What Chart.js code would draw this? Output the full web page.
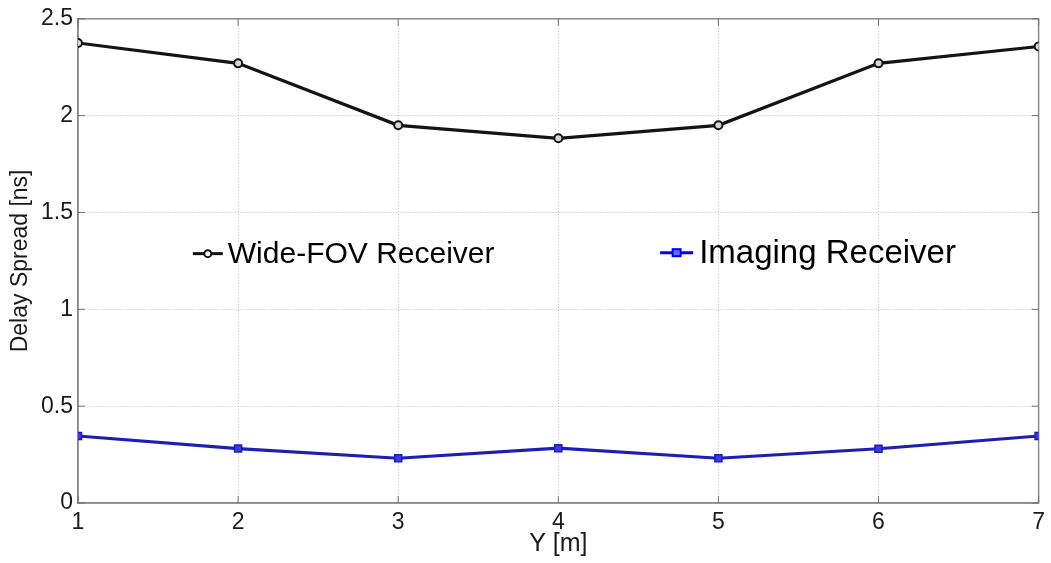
<!DOCTYPE html>
<html>
<head>
<meta charset="utf-8">
<script src="https://cdn.jsdelivr.net/npm/chart.js@4/dist/chart.umd.min.js"></script>
<style>
  html, body { margin: 0; padding: 0; background: #fff; }
  #wrap { width: 1051px; height: 563px; }
</style>
</head>
<body>
<div id="wrap"><canvas id="c" width="1051" height="563"></canvas></div>
<script>
// Receiver position along the room (Y, metres)
const positions = [1, 2, 3, 4, 5, 6, 7];
// RMS delay spread in ns for each receiver type
const wideFovSpread = [2.375, 2.27, 1.95, 1.883, 1.95, 2.27, 2.357];
const imagingSpread = [0.346, 0.281, 0.231, 0.283, 0.231, 0.280, 0.346];
// Axis ticks
const yTicks = [0, 0.5, 1, 1.5, 2, 2.5];
const xTicks = [1, 2, 3, 4, 5, 6, 7];

const seriesNames = ['Wide-FOV Receiver', 'Imaging Receiver'];

const toPoints = (xs, ys) => xs.map((x, i) => ({ x: x, y: ys[i] }));

const FONT = 'Arial, "Liberation Sans", Helvetica, sans-serif';

// Box around the plotting area with short inward tick marks on every side
const boxPlugin = {
  id: 'axesBox',
  beforeDatasetsDraw(chart) {
    const { ctx, chartArea: a, scales } = chart;
    ctx.save();
    ctx.strokeStyle = '#8a8a8a';
    ctx.lineWidth = 1.5;
    ctx.strokeRect(a.left, a.top, a.right - a.left, a.bottom - a.top);
    ctx.lineWidth = 1;
    ctx.strokeStyle = '#707070';
    const t = 7;
    ctx.beginPath();
    xTicks.forEach(v => {
      const px = scales.x.getPixelForValue(v);
      ctx.moveTo(px, a.bottom); ctx.lineTo(px, a.bottom - t);
      ctx.moveTo(px, a.top); ctx.lineTo(px, a.top + t);
    });
    yTicks.forEach(v => {
      const py = scales.y.getPixelForValue(v);
      ctx.moveTo(a.left, py); ctx.lineTo(a.left + t, py);
      ctx.moveTo(a.right, py); ctx.lineTo(a.right - t, py);
    });
    ctx.stroke();
    ctx.restore();
  }
};

// In-plot legend entries, placed as in a MATLAB legend
const legendPlugin = {
  id: 'inlineLegend',
  afterDatasetsDraw(chart) {
    const { ctx, chartArea: a } = chart;
    const w = a.right - a.left, h = a.bottom - a.top;
    const entries = [
      { ds: 0, fx: 0.1195, fy: 0.485, len: 30, size: 30, gap: 5, color: '#111111' },
      { ds: 1, fx: 0.6060, fy: 0.483, len: 33, size: 33, gap: 6, color: '#0000ff' }
    ];
    ctx.save();
    entries.forEach(e => {
      const ds = chart.data.datasets[e.ds];
      const x0 = a.left + e.fx * w;
      const y0 = a.top + e.fy * h;
      ctx.strokeStyle = e.color;
      ctx.lineWidth = 3;
      ctx.beginPath();
      ctx.moveTo(x0, y0);
      ctx.lineTo(x0 + e.len, y0);
      ctx.stroke();
      const cx = x0 + e.len / 2;
      ctx.lineWidth = 2;
      if (ds.pointStyle === 'rect') {
        ctx.fillStyle = '#6a6aff';
        ctx.fillRect(cx - 4, y0 - 3.5, 8, 7);
        ctx.strokeRect(cx - 4, y0 - 3.5, 8, 7);
      } else {
        ctx.fillStyle = '#ffffff';
        ctx.beginPath();
        ctx.arc(cx, y0, 3.5, 0, Math.PI * 2);
        ctx.fill();
        ctx.stroke();
      }
      ctx.fillStyle = '#000';
      ctx.font = e.size + 'px ' + FONT;
      ctx.textBaseline = 'middle';
      ctx.textAlign = 'left';
      ctx.fillText(ds.label, x0 + e.len + e.gap, y0 + 1);
    });
    ctx.restore();
  }
};

new Chart(document.getElementById('c'), {
  type: 'line',
  data: {
    datasets: [
      {
        label: seriesNames[0],
        data: toPoints(positions, wideFovSpread),
        borderColor: '#141414',
        backgroundColor: '#ffffff',
        borderWidth: 3.2,
        pointStyle: 'circle',
        pointRadius: 4,
        pointBorderWidth: 2,
        pointBorderColor: '#141414',
        pointBackgroundColor: '#d8d8d8',
        tension: 0
      },
      {
        label: seriesNames[1],
        data: toPoints(positions, imagingSpread),
        borderColor: '#1e1eb4',
        backgroundColor: '#4848f0',
        borderWidth: 3.2,
        pointStyle: 'rect',
        pointRadius: 5,
        pointBorderWidth: 1.5,
        pointBorderColor: '#1e1eb4',
        pointBackgroundColor: '#3a3ae8',
        tension: 0
      }
    ]
  },
  options: {
    responsive: false,
    animation: false,
    devicePixelRatio: 1,
    layout: { padding: { left: 0, right: 11, top: 17, bottom: 0 } },
    plugins: {
      legend: { display: false },
      tooltip: { enabled: false }
    },
    scales: {
      x: {
        type: 'linear',
        min: 1,
        max: 7,
        afterBuildTicks: s => { s.ticks = xTicks.map(v => ({ value: v })); },
        afterFit: s => { s.height = 60; },
        grid: {
          color: '#bdbdbd',
          lineWidth: 1,
          drawTicks: false
        },
        border: { display: true, color: '#8a8a8a', width: 1.5, dash: [1, 2] },
        ticks: {
          color: '#1a1a1a',
          font: { family: FONT, size: 23 },
          padding: 6,
          maxRotation: 0,
          callback: v => String(v)
        },
        title: {
          display: true,
          text: 'Y [m]',
          color: '#1a1a1a',
          font: { family: FONT, size: 25 },
          padding: { top: 0, bottom: 4 }
        }
      },
      y: {
        type: 'linear',
        min: 0,
        max: 2.5,
        afterBuildTicks: s => { s.ticks = yTicks.map(v => ({ value: v })); },
        afterFit: s => { s.width = 78; },
        grid: {
          color: '#bdbdbd',
          lineWidth: 1,
          drawTicks: false
        },
        border: { display: true, color: '#8a8a8a', width: 1.5, dash: [1, 2] },
        ticks: {
          color: '#1a1a1a',
          font: { family: FONT, size: 23 },
          padding: 5,
          callback: v => String(v)
        },
        title: {
          display: true,
          text: 'Delay Spread [ns]',
          color: '#1a1a1a',
          font: { family: FONT, size: 23 },
          padding: { top: 7, bottom: 0 }
        }
      }
    }
  },
  plugins: [boxPlugin, legendPlugin]
});
</script>
</body>
</html>
